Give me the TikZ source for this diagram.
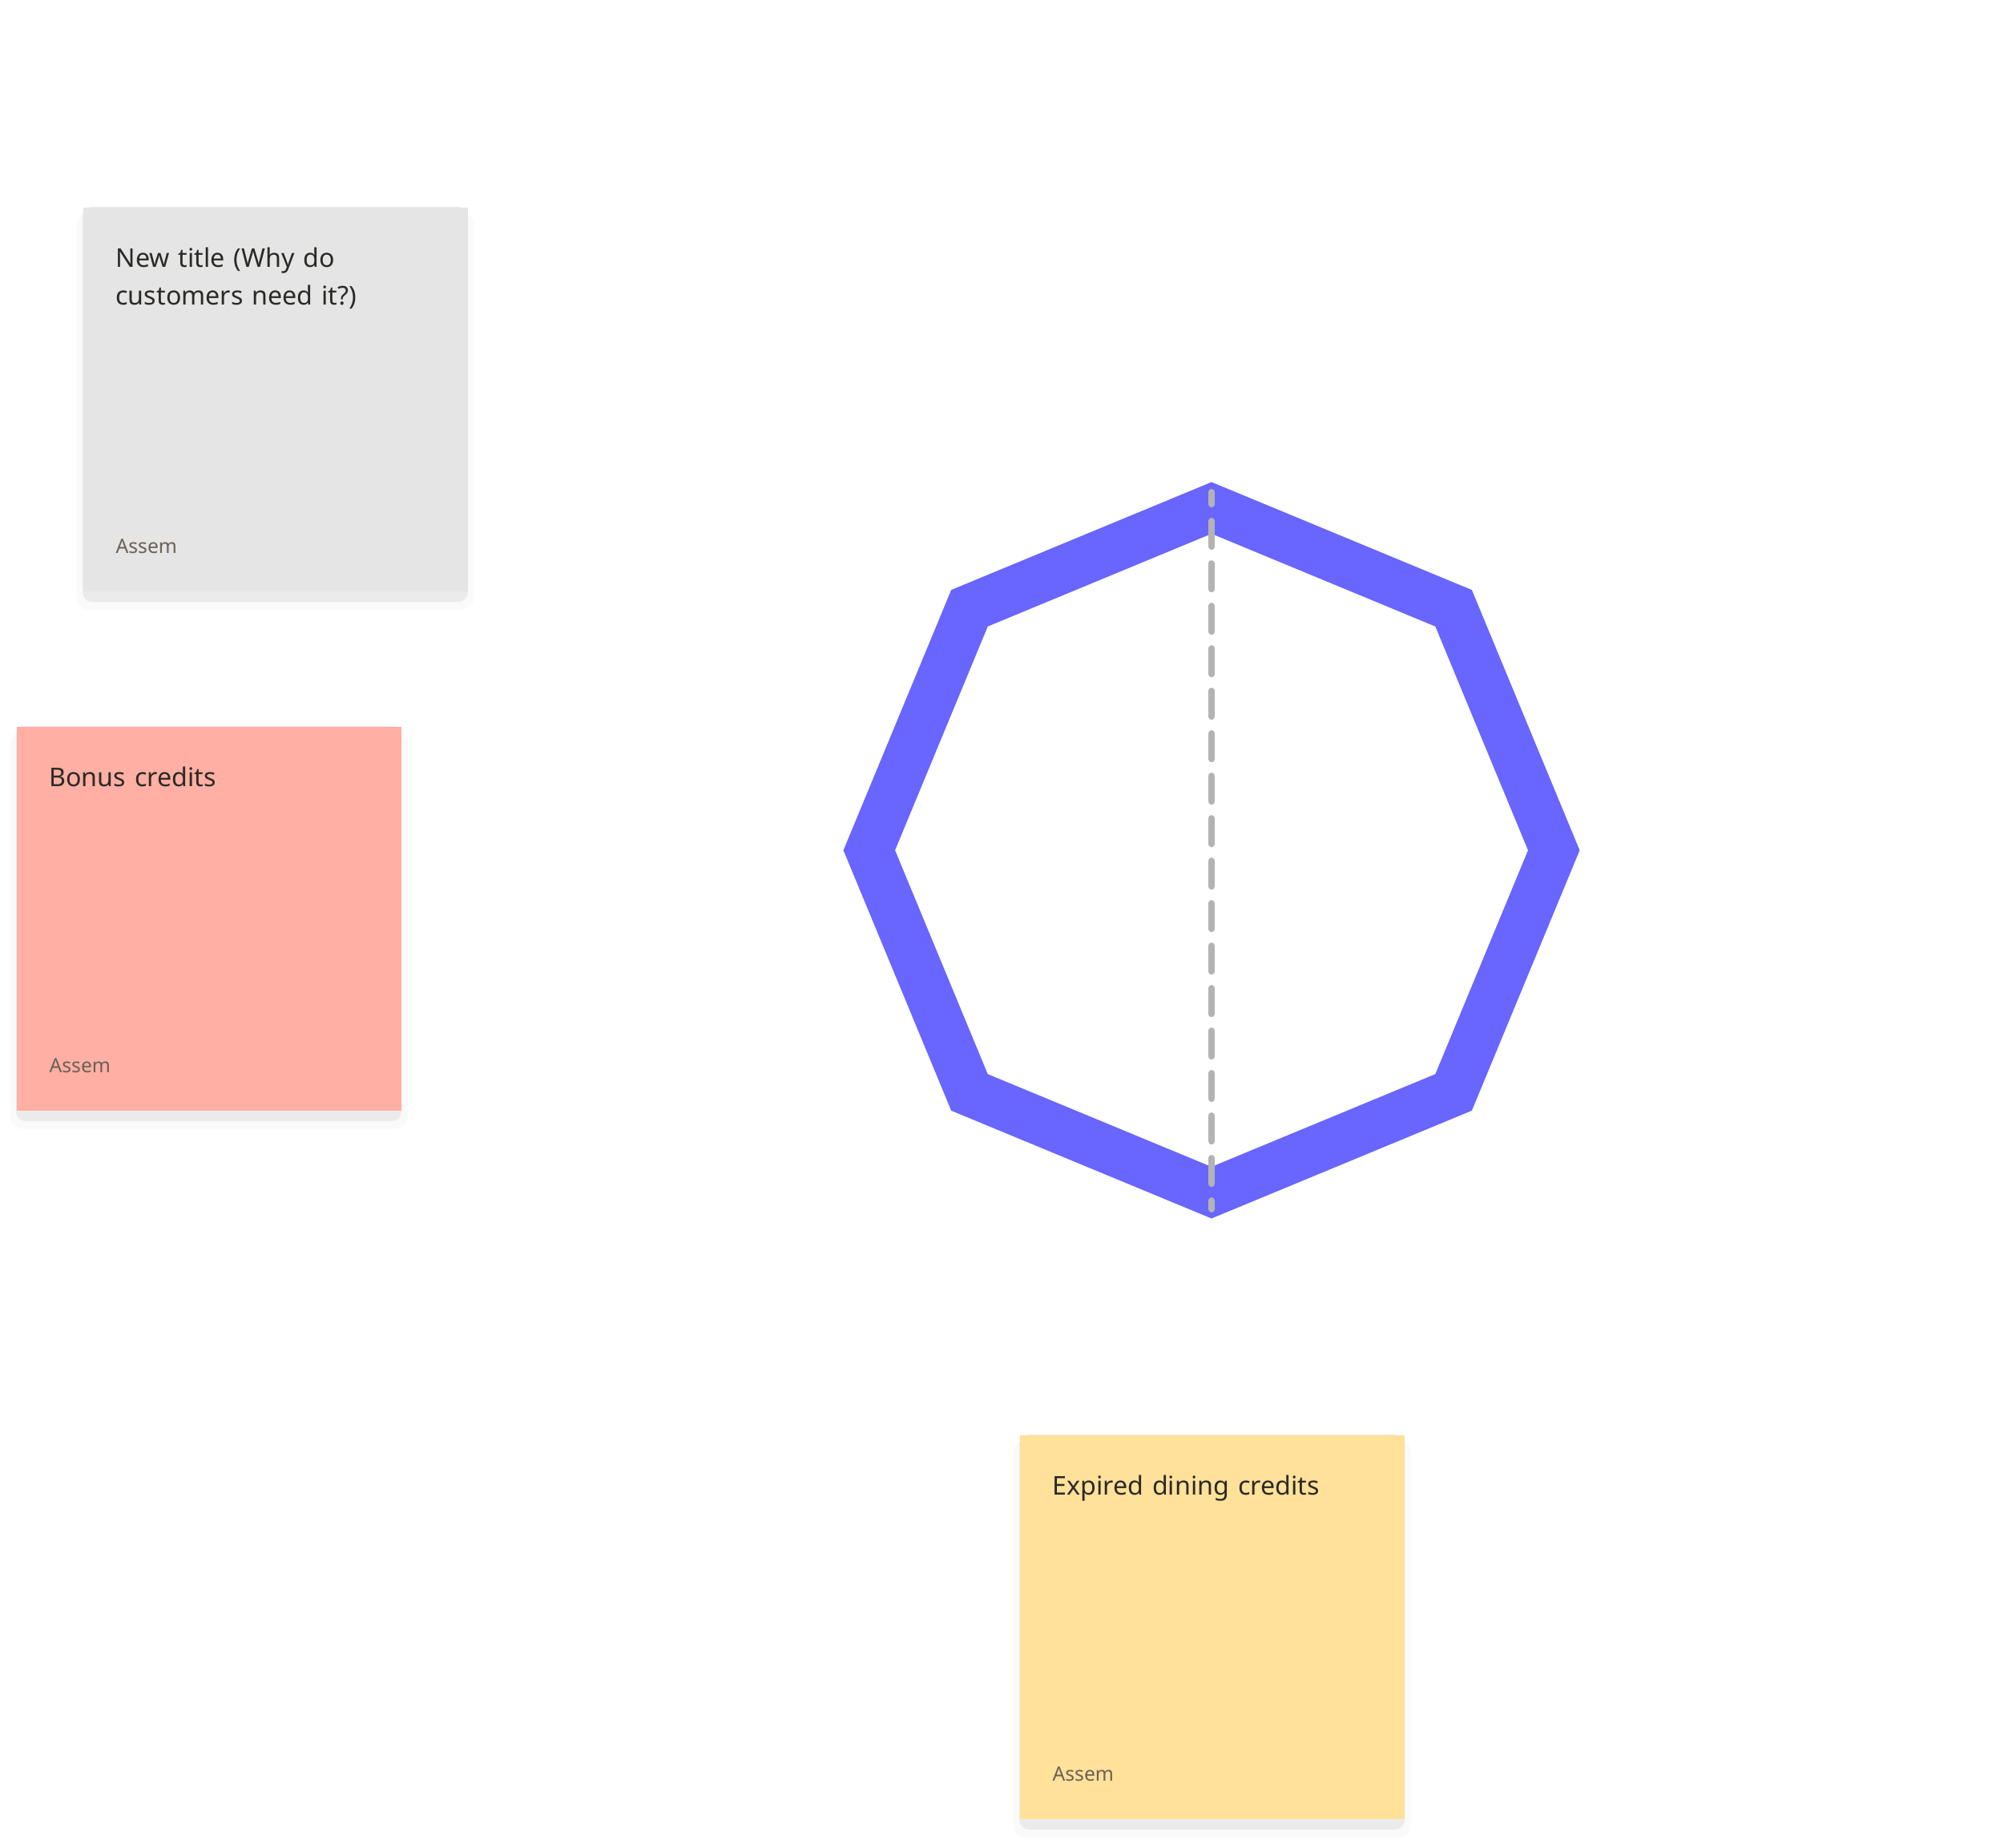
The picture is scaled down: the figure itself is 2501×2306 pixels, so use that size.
\documentclass[tikz,border=0pt]{standalone}
\usepackage{fontspec}
\setmainfont{Noto Sans}
\usetikzlibrary{backgrounds}
\definecolor{notegrey}{HTML}{E5E5E5}
\definecolor{notepink}{HTML}{FFAFA3}
\definecolor{noteyellow}{HTML}{FFE199}
\definecolor{octblue}{HTML}{6866FF}
\definecolor{dashgrey}{HTML}{B3B3B3}
\definecolor{textdark}{HTML}{2C2A27}
\definecolor{textauthor}{HTML}{6B6158}
\definecolor{shadowband}{HTML}{EBEBEB}
\definecolor{shadowhalo}{HTML}{FAFAFA}
\begin{document}
\begin{tikzpicture}[x=0.4pt,y=-0.4pt,
  note/.style={rectangle, inner sep=0pt, minimum width=192pt, minimum height=191.6pt, anchor=north west},
  notetitle/.style={inner sep=0pt, anchor=base west, text width=165pt, align=left, text=textdark,
    font=\fontsize{12.9pt}{18.84pt}\selectfont},
  noteauthor/.style={inner sep=0pt, anchor=base west, text=textauthor,
    font=\fontsize{9.9pt}{11pt}\selectfont},
  octa/.style={draw=octblue, line width=23.8pt, line join=miter},
  divider/.style={draw=dashgrey, line width=3.1pt, line cap=round,
    dash pattern=on 12.92pt off 8.28pt, dash phase=6.8pt}
]
\useasboundingbox (0,0) rectangle (2501,2306);

% sticky notes
\node[note, fill=notegrey] (g) at (103,258) {};
\node[note, fill=notepink] (p) at (20,906) {};
\node[note, fill=noteyellow] (y) at (1272,1790) {};

\begin{scope}[on background layer]
  \fill[white] (0,0) rectangle (2501,2306);
  \foreach \n in {g,p,y} {
    \fill[shadowhalo, rounded corners=6pt] ([xshift=-3pt,yshift=-3pt]\n.north west) rectangle ([xshift=3pt,yshift=-9pt]\n.south east);
    \fill[shadowband, rounded corners=4.8pt] (\n.north west) rectangle ([yshift=-5.2pt]\n.south east);
  }
\end{scope}

\node[notetitle] (gt) at ([xshift=16.4pt,yshift=-30.2pt]g.north west) {New title (Why do\\customers need it?)};
\node[noteauthor] (ga) at ([xshift=16.4pt,yshift=-172.8pt]g.north west) {Assem};
\node[notetitle] (pt) at ([xshift=16.4pt,yshift=-30.2pt]p.north west) {Bonus credits};
\node[noteauthor] (pa) at ([xshift=16.4pt,yshift=-172.8pt]p.north west) {Assem};
\node[notetitle] (yt) at ([xshift=16.4pt,yshift=-30.2pt]y.north west) {Expired dining credits};
\node[noteauthor] (ya) at ([xshift=16.4pt,yshift=-172.8pt]y.north west) {Assem};

% octagon
\draw[octa, shift={(1512,1061)}] (0:427.2) -- (45:427.2) -- (90:427.2) -- (135:427.2) -- (180:427.2) -- (225:427.2) -- (270:427.2) -- (315:427.2) -- cycle;

% dashed divider
\coordinate (dtop) at (1512,614);
\coordinate (dbot) at (1512,1509);
\draw[divider] (dtop) -- (dbot);
\end{tikzpicture}
\end{document}
